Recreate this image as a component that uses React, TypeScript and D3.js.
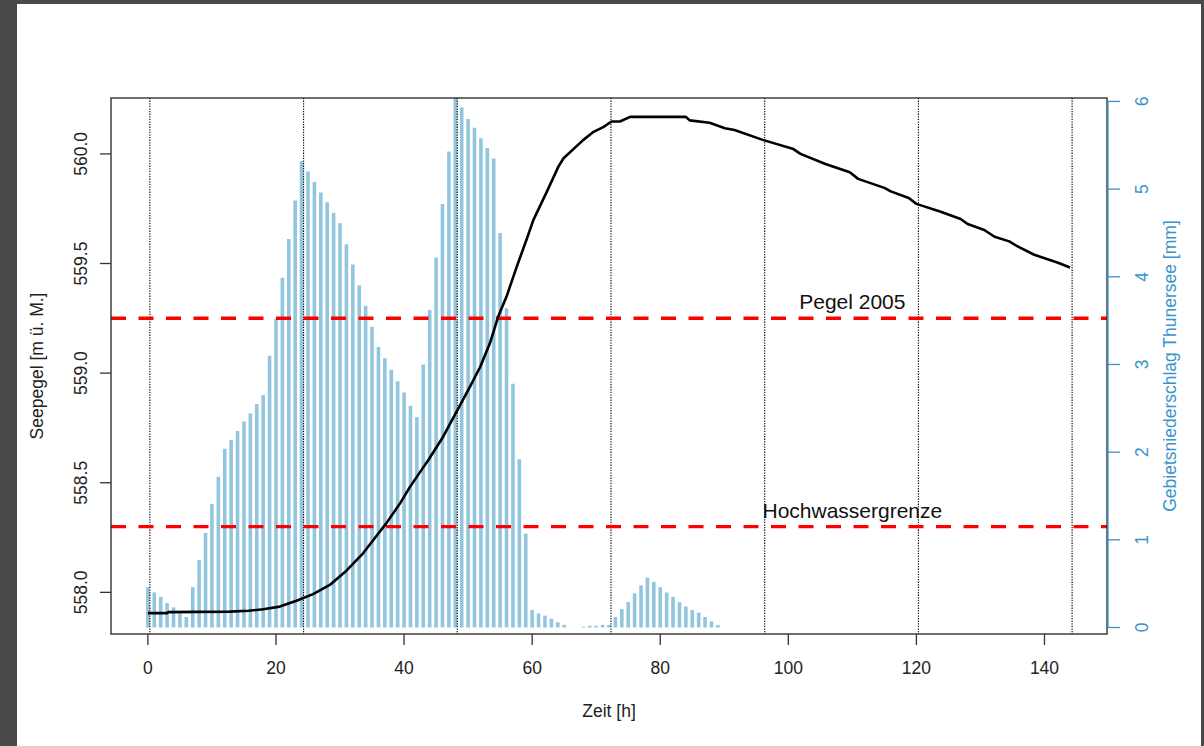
import React from 'react';
import * as d3 from 'd3';

// hourly areal precipitation Thunersee [mm], hours 0..89
const rainHours = d3.range(0, 90);
const rainValues = [
  0.46, 0.4, 0.35, 0.28, 0.23, 0.17, 0.12, 0.46, 0.77, 1.08,
  1.41, 1.72, 2.04, 2.14, 2.24, 2.35, 2.44, 2.55, 2.65, 3.1,
  3.52, 3.99, 4.43, 4.87, 5.32, 5.2, 5.08, 4.96, 4.85, 4.73,
  4.61, 4.37, 4.14, 3.9, 3.67, 3.43, 3.2, 3.07, 2.94, 2.81,
  2.68, 2.53, 2.4, 3.0, 3.62, 4.22, 4.83, 5.43, 6.04, 5.93,
  5.8, 5.7, 5.58, 5.47, 5.35, 4.5, 3.64, 2.78, 1.92, 1.07,
  0.2, 0.16, 0.135, 0.1, 0.06, 0.03, 0, 0, 0.01, 0.02,
  0.02, 0.03, 0.03, 0.12, 0.21, 0.29, 0.39, 0.48, 0.57, 0.52,
  0.46, 0.4, 0.35, 0.29, 0.24, 0.2, 0.17, 0.12, 0.07, 0.03,
];

// lake level [m ü. M.]
const levelHours = [
  0, 3, 3.2, 12.8, 15.7, 18, 20.6, 23.2, 25.8, 28.4, 31, 33.6, 35.2, 37.3,
  39.4, 40.9, 43, 43.8, 46.1, 48.5, 50.3, 51.9, 53.4, 54.7, 56, 57.6, 59.2,
  60.2, 62.3, 64.1, 64.9, 68, 69.5, 71.1, 72.4, 73.7, 75.3, 84, 84.6, 87.7,
  90.1, 91.6, 96, 100.8, 101.9, 105.8, 109.6, 110.9, 115, 116, 118.8, 120,
  123.8, 126.9, 128, 130.6, 132.2, 134.5, 135.8, 138.4, 142, 144,
];
const levelValues = [
  557.905, 557.905, 557.91, 557.912, 557.916, 557.923, 557.935, 557.962,
  557.992, 558.034, 558.099, 558.178, 558.239, 558.318, 558.407, 558.48,
  558.57, 558.604, 558.71, 558.84, 558.938, 559.029, 559.136, 559.258,
  559.349, 559.486, 559.615, 559.699, 559.828, 559.942, 559.98, 560.064,
  560.099, 560.122, 560.148, 560.148, 560.169, 560.169, 560.153, 560.142,
  560.117, 560.109, 560.064, 560.022, 560.0, 559.954, 559.916, 559.886,
  559.845, 559.829, 559.799, 559.772, 559.736, 559.703, 559.68, 559.653,
  559.622, 559.601, 559.578, 559.54, 559.505, 559.482,
];

const refLevels = [559.25, 558.3];
const refLabels = ['Pegel 2005', 'Hochwassergrenze'];
const refLabelHour = 110;

const gridHours = [0, 24, 48, 72, 96, 120, 144];
const xTicks = [0, 20, 40, 60, 80, 100, 120, 140];
const yTicks = [558.0, 558.5, 559.0, 559.5, 560.0];
const rTicks = [0, 1, 2, 3, 4, 5, 6];

const FONT = '"Liberation Sans", Arial, Helvetica, sans-serif';
const BLUE = '#3a93cb';
const BAR = '#92c5de';

export default function App() {
  const W = 1204;
  const H = 746;
  const left = 111;
  const right = 1107;
  const top = 98;
  const bottom = 634;

  const x = d3.scaleLinear().domain([-5.76, 149.76]).range([left, right]);
  const y = d3.scaleLinear().domain([557.81, 560.255]).range([bottom, top]);
  const yR = d3.scaleLinear().domain([-0.074, 6.039]).range([bottom, top]);

  const line = d3
    .line<number>()
    .x((_, i) => x(levelHours[i]))
    .y(d => y(d));

  const rAxisX = right + 1;

  return (
    <div style={{ position: 'absolute', left: 0, top: 0 }}>
      <svg width={W} height={H} style={{ display: 'block', fontFamily: FONT }}>
        <defs>
          <clipPath id="plotArea">
            <rect x={left} y={top} width={right - left} height={bottom - top} />
          </clipPath>
        </defs>
        <rect x={0} y={0} width={W} height={H} fill="#ffffff" />
        {/* screenshot frame */}
        <rect x={0} y={0} width={17} height={H} fill="#494949" />
        <rect x={0} y={0} width={W} height={4} fill="#494949" />
        <rect x={W - 3} y={0} width={3} height={H} fill="#494949" />

        <g clipPath="url(#plotArea)">
          {rainValues.map((v, i) =>
            v > 0 ? (
              <line
                key={i}
                x1={x(rainHours[i])}
                x2={x(rainHours[i])}
                y1={yR(0)}
                y2={yR(v)}
                stroke={BAR}
                strokeWidth={3.6}
              />
            ) : null
          )}
          {gridHours.map(h => (
            <line
              key={h}
              x1={x(h) + 2}
              x2={x(h) + 2}
              y1={top}
              y2={bottom}
              stroke="#000"
              strokeWidth={1.1}
              strokeDasharray="1.3 1.3"
            />
          ))}
          {refLevels.map(l => (
            <line
              key={l}
              x1={left}
              x2={right}
              y1={y(l)}
              y2={y(l)}
              stroke="#ff0000"
              strokeWidth={3.4}
              strokeDasharray="15 12.5"
            />
          ))}
          <path
            d={line(levelValues) as string}
            fill="none"
            stroke="#000"
            strokeWidth={2.6}
            strokeLinejoin="round"
          />
        </g>

        {refLevels.map((l, i) => (
          <text
            key={l}
            x={x(refLabelHour)}
            y={y(l) - 9}
            textAnchor="middle"
            fontSize={21}
            fill="#111"
          >
            {refLabels[i]}
          </text>
        ))}

        {/* box */}
        <rect
          x={left}
          y={top}
          width={right - left}
          height={bottom - top}
          fill="none"
          stroke="#222"
          strokeWidth={1.3}
        />

        {/* bottom axis */}
        {xTicks.map(t => (
          <g key={t}>
            <line x1={x(t)} x2={x(t)} y1={bottom} y2={bottom + 11} stroke="#333" strokeWidth={1.3} />
            <text x={x(t)} y={674} textAnchor="middle" fontSize={17.5} fill="#222">
              {t}
            </text>
          </g>
        ))}
        <text x={(left + right) / 2} y={717} textAnchor="middle" fontSize={17.5} fill="#222">
          Zeit [h]
        </text>

        {/* left axis */}
        {yTicks.map(t => (
          <g key={t}>
            <line x1={left - 11} x2={left} y1={y(t)} y2={y(t)} stroke="#333" strokeWidth={1.3} />
            <text
              transform={`translate(87,${y(t)}) rotate(-90)`}
              textAnchor="middle"
              fontSize={17.5}
              fill="#222"
            >
              {t.toFixed(1)}
            </text>
          </g>
        ))}
        <text
          transform={`translate(43,${(top + bottom) / 2}) rotate(-90)`}
          textAnchor="middle"
          fontSize={17.5}
          fill="#222"
        >
          Seepegel [m ü. M.]
        </text>

        {/* right axis */}
        <line x1={rAxisX} x2={rAxisX} y1={yR(0)} y2={yR(6)} stroke={BLUE} strokeWidth={1.3} />
        {rTicks.map(t => (
          <g key={t}>
            <line x1={rAxisX} x2={rAxisX + 12} y1={yR(t)} y2={yR(t)} stroke={BLUE} strokeWidth={1.3} />
            <text
              transform={`translate(1148,${yR(t)}) rotate(-90)`}
              textAnchor="middle"
              fontSize={17.5}
              fill={BLUE}
            >
              {t}
            </text>
          </g>
        ))}
        <text
          transform={`translate(1175.5,${(top + bottom) / 2}) rotate(-90)`}
          textAnchor="middle"
          fontSize={17.5}
          fill={BLUE}
        >
          Gebietsniederschlag Thunersee [mm]
        </text>
      </svg>
    </div>
  );
}
